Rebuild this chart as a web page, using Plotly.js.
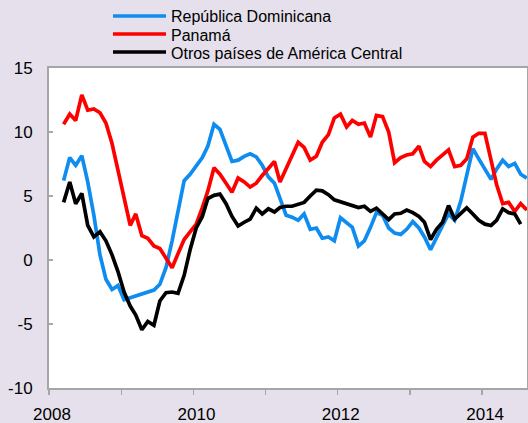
<!DOCTYPE html>
<html>
<head>
<meta charset="utf-8">
<script src="https://cdn.plot.ly/plotly-3.0.1.min.js"></script>
<style>
  html, body { margin: 0; padding: 0; background: #E5E0EC; }
  #chart { width: 528px; height: 423px; }
</style>
</head>
<body>
<div id="chart"></div>
<script>
// ---- data (monthly, starting March 2008) ----
const seriesNames = ["República Dominicana", "Panamá", "Otros países de América Central"];
const startYear = 2008;
const startMonth = 3;

const dominicana = [6.2,8.0,7.4,8.15,6.1,3.5,0.4,-1.5,-2.3,-2.0,
  -3.1,-2.95,-2.8,-2.7,-2.55,-2.35,-1.9,-0.6,1.5,3.8,
  6.2,6.7,7.3,8.0,8.9,10.6,10.2,9.0,7.7,7.8,
  8.1,8.3,8.05,7.4,6.5,6.0,4.9,3.5,3.35,3.1,
  3.6,2.4,2.5,1.7,1.8,1.5,3.3,2.95,2.55,1.1,
  1.5,2.55,3.7,3.5,2.5,2.1,2.0,2.4,3.0,2.5,
  1.8,0.8,1.8,2.7,3.6,3.1,4.6,6.5,8.7,7.9,
  7.1,6.3,7.1,7.8,7.3,7.55,6.7,6.4];

const panama = [10.6,11.4,10.9,12.9,11.7,11.8,11.5,10.7,9.1,7.0,
  5.0,2.7,3.6,1.9,1.7,1.1,0.9,0.2,-0.6,0.5,
  1.6,2.2,2.8,4.1,5.4,7.2,6.7,6.0,5.3,6.4,
  6.1,5.7,6.0,6.6,7.2,7.7,6.1,7.2,8.1,9.2,
  8.8,7.8,8.1,9.2,9.8,11.1,11.4,10.4,10.9,10.6,
  10.7,9.6,11.3,11.2,10.0,7.6,8.0,8.2,8.3,8.9,
  7.7,7.3,7.8,8.2,8.6,7.3,7.4,7.9,9.6,9.9,
  9.9,7.8,5.9,4.4,4.5,3.8,4.4,3.9];

const otros = [4.5,6.1,4.4,5.2,2.7,1.8,2.2,1.5,0.4,-0.9,
  -2.5,-3.6,-4.3,-5.45,-4.8,-5.1,-3.2,-2.55,-2.5,-2.6,
  -1.2,0.8,2.5,3.4,4.8,5.05,5.15,4.4,3.4,2.65,
  2.95,3.2,4.05,3.6,4.0,3.75,4.1,4.2,4.2,4.35,
  4.5,5.0,5.45,5.4,5.1,4.7,4.55,4.4,4.25,4.1,
  4.2,3.8,4.05,3.6,3.15,3.6,3.65,3.9,3.7,3.4,
  2.95,1.6,2.4,2.95,4.25,3.2,3.6,4.07,3.6,3.1,
  2.8,2.7,3.1,4.0,3.7,3.6,2.8];

const yTickVals = [-10, -5, 0, 5, 10, 15];
const yTickText = ["-10", "-5", "0", "5", "10", "15"];

function monthDates(n) {
  const out = [];
  for (let i = 0; i < n; i++) {
    const t = (startMonth - 1) + i;
    const y = startYear + Math.floor(t / 12);
    const m = (t % 12) + 1;
    out.push(y + "-" + String(m).padStart(2, "0") + "-15");
  }
  return out;
}

const colors = ["#0E8CF0", "#FF0000", "#000000"];
const values = [dominicana, panama, otros];

const traces = values.map((v, i) => ({
  type: "scatter",
  mode: "lines",
  x: monthDates(v.length),
  y: v,
  name: seriesNames[i],
  line: { color: colors[i], width: 3.7 },
  showlegend: false,
  hoverinfo: "skip"
}));

// ---- layout geometry ----
const W = 528, H = 423;
const M = { l: 49, r: 1, t: 68, b: 35 };
const pw = W - M.l - M.r, ph = H - M.t - M.b;
const px2x = px => (px - M.l) / pw;
const py2y = py => (H - M.b - py) / ph;

const fontFam = "Liberation Sans, Arial, Helvetica, sans-serif";
const gray = "#A6A6A6";

// manual legend (compact row spacing as in the reference)
const legRows = [16.0, 34.0, 52.0];
const shapes = [];
const annotations = [];
seriesNames.forEach((name, i) => {
  shapes.push({
    type: "line", xref: "paper", yref: "paper",
    x0: px2x(113), x1: px2x(166), y0: py2y(legRows[i]), y1: py2y(legRows[i]),
    line: { color: colors[i], width: 3.6 }
  });
  annotations.push({
    xref: "paper", yref: "paper",
    x: px2x(170), y: py2y(legRows[i] + 1),
    xanchor: "left", yanchor: "middle",
    borderpad: 0,
    text: name, showarrow: false,
    font: { family: fontFam, size: 16, color: "#000" }
  });
});

const layout = {
  width: W, height: H,
  margin: M,
  paper_bgcolor: "#E5E0EC",
  plot_bgcolor: "#FFFFFF",
  font: { family: fontFam, size: 17, color: "#000" },
  showlegend: false,
  xaxis: {
    type: "date",
    range: ["2008-01-01", "2014-08-16"],
    tick0: "2008-01-01",
    dtick: "M24",
    tickformat: "%Y",
    ticks: "outside", ticklen: 5, tickwidth: 1.5, tickcolor: gray,
    minor: { dtick: "M12", tick0: "2008-01-01", ticks: "outside", ticklen: 5, tickwidth: 1.5, tickcolor: gray },
    showline: true, linecolor: gray, linewidth: 2, mirror: true,
    showgrid: false, zeroline: false,
    ticklabelstandoff: 5,
    ticklabelshift: 3,
    tickfont: { family: fontFam, size: 17, color: "#000" }
  },
  yaxis: {
    range: [-10, 15],
    tickvals: yTickVals, ticktext: yTickText,
    ticks: "inside", ticklen: 4, tickwidth: 1.5, tickcolor: gray,
    showline: true, linecolor: gray, linewidth: 2, mirror: true,
    showgrid: false, zeroline: false,
    ticklabelstandoff: 11,
    tickfont: { family: fontFam, size: 17, color: "#000" }
  },
  shapes: shapes,
  annotations: annotations
};

Plotly.newPlot("chart", traces, layout, { staticPlot: true, displayModeBar: false });
</script>
</body>
</html>
